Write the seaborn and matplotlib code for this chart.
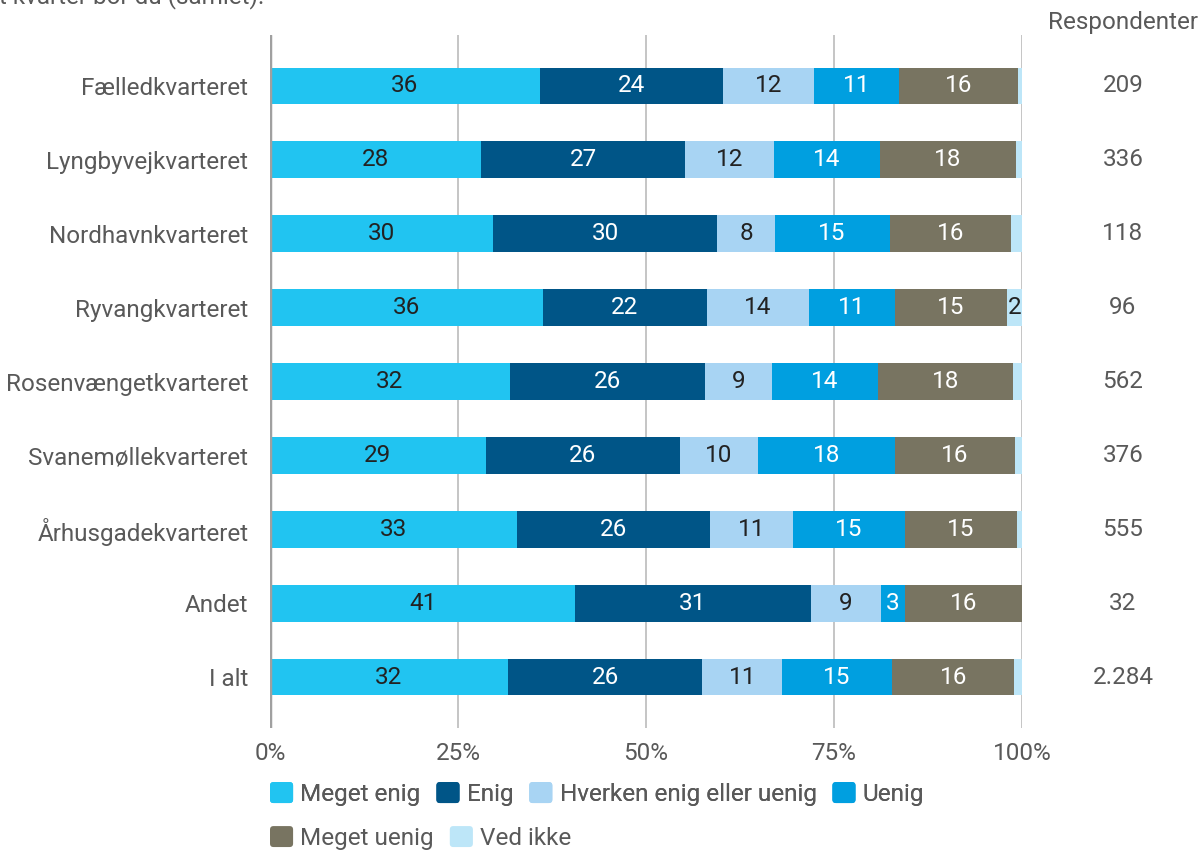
import numpy as np
import pandas as pd
import matplotlib.pyplot as plt
import matplotlib.transforms as mtransforms
from matplotlib.patches import FancyBboxPatch, Patch
from matplotlib.legend_handler import HandlerPatch
import seaborn as sns

# Data (percent per answer category)
kvarterer = ['Fælledkvarteret', 'Lyngbyvejkvarteret', 'Nordhavnkvarteret', 'Ryvangkvarteret',
             'Rosenvængetkvarteret', 'Svanemøllekvarteret', 'Århusgadekvarteret', 'Andet', 'I alt']
svar = ['Meget enig', 'Enig', 'Hverken enig eller uenig', 'Uenig', 'Meget uenig', 'Ved ikke']

meget_enig = [35.9, 28.1, 29.7, 36.3, 31.9, 28.7, 32.8, 40.6, 31.6]
enig = [24.4, 27.1, 29.8, 21.8, 25.9, 25.8, 25.7, 31.3, 25.9]
hverken = [12.0, 11.8, 7.6, 13.6, 9.0, 10.4, 11.0, 9.4, 10.6]
uenig = [11.4, 14.1, 15.3, 11.4, 14.0, 18.2, 15.0, 3.1, 14.6]
meget_uenig = [15.8, 18.1, 16.1, 14.9, 18.0, 16.0, 14.8, 15.6, 16.3]
ved_ikke = [0.5, 0.8, 1.5, 2.0, 1.2, 0.9, 0.7, 0.0, 1.0]

respondenter = ['209', '336', '118', '96', '562', '376', '555', '32', '2.284']

farver = ['#21c4f1', '#005587', '#a8d4f3', '#009fe0', '#787461', '#bde6f8']
tekstfarver = ['#222222', 'white', '#222222', 'white', 'white', '#222222']

FS = 17.5
GRAA = '#595959'

sns.set_theme(style='white')
plt.rcParams['font.family'] = ['Roboto', 'DejaVu Sans']


class RundHandler(HandlerPatch):
    # legend square with slightly rounded corners
    def create_artists(self, legend, orig_handle, xdescent, ydescent, width, height, fontsize, trans):
        p = FancyBboxPatch((-xdescent, -ydescent), width, height,
                           boxstyle='round,pad=0,rounding_size=2.5',
                           facecolor=orig_handle.get_facecolor(), edgecolor='none', transform=trans)
        return [p]


df = pd.DataFrame({'kvarter': kvarterer})
serier = [meget_enig, enig, hverken, uenig, meget_uenig, ved_ikke]
for navn, vals in zip(svar, serier):
    df[navn] = vals
cum = df[svar].cumsum(axis=1)

fig = plt.figure(figsize=(12.02, 8.52), dpi=100)
ax = fig.add_axes([270 / 1202, 1 - 728 / 852, (1022 - 270) / 1202, (728 - 35) / 852])

# stacked bars: draw cumulative totals, widest first
for i in range(len(svar) - 1, -1, -1):
    sns.barplot(x=cum[svar[i]], y=df['kvarter'], orient='h', color=farver[i],
                saturation=1, width=0.5, linewidth=0, ax=ax, zorder=2)

# value labels in segments
for j in range(len(kvarterer)):
    for i, navn in enumerate(svar):
        v = df.loc[j, navn]
        if v >= 1.8:
            x = cum.loc[j, navn] - v / 2
            ax.text(x, j, f'{v:.0f}', ha='center', va='center', fontsize=FS,
                    color=tekstfarver[i], zorder=5)

ax.set_xlim(0, 100)
ax.set_ylim(len(kvarterer) - 1 + 0.69, -0.69)
ax.set_xticks([0, 25, 50, 75, 100])
ax.set_xticklabels(['0%', '25%', '50%', '75%', '100%'])
ax.grid(axis='x', color='#b5b5b5', linewidth=1.1, zorder=0)
ax.grid(axis='y', visible=False)
ax.set_axisbelow(True)
ax.axvline(0, color='#a0a0a0', linewidth=2.5, zorder=4)
ax.set_xlabel('')
ax.set_ylabel('')
for s in ax.spines.values():
    s.set_visible(False)
ax.tick_params(axis='x', length=0, pad=10, labelsize=FS, labelcolor=GRAA)
ax.tick_params(axis='y', length=0, pad=15.5, labelsize=FS, labelcolor=GRAA)

# respondent column
trans = mtransforms.blended_transform_factory(fig.transFigure, ax.transData)
for j, r in enumerate(respondenter):
    ax.text(1123 / 1202, j, r, transform=trans, ha='center', va='center',
            fontsize=FS, color=GRAA)
fig.text(1123 / 1202, 1 - 22 / 852, 'Respondenter', ha='center', va='center',
         fontsize=FS, color=GRAA)

# cropped question text at the top
fig.text(-1 / 1202, 1 - 3 / 852, 't kvarter bor du (samlet).', ha='left',
         va='baseline', fontsize=FS, color=GRAA)

# legend in two rows
handles = [Patch(facecolor=c, edgecolor='none') for c in farver]
leg_kw = dict(frameon=False, fontsize=FS, handlelength=0.95, handleheight=0.95,
              handletextpad=0.3, columnspacing=0.65, borderaxespad=0, borderpad=0,
              handler_map={Patch: RundHandler()})
leg1 = fig.legend(handles[:4], svar[:4], loc='center left',
                  bbox_to_anchor=(270 / 1202, 1 - 794 / 852), ncol=4, **leg_kw)
leg2 = fig.legend(handles[4:], svar[4:], loc='center left',
                  bbox_to_anchor=(270 / 1202, 1 - 838 / 852), ncol=2, **leg_kw)
for leg in (leg1, leg2):
    for t in leg.get_texts():
        t.set_color(GRAA)
fig.add_artist(leg1)

fig.savefig('out.png', dpi=100)
